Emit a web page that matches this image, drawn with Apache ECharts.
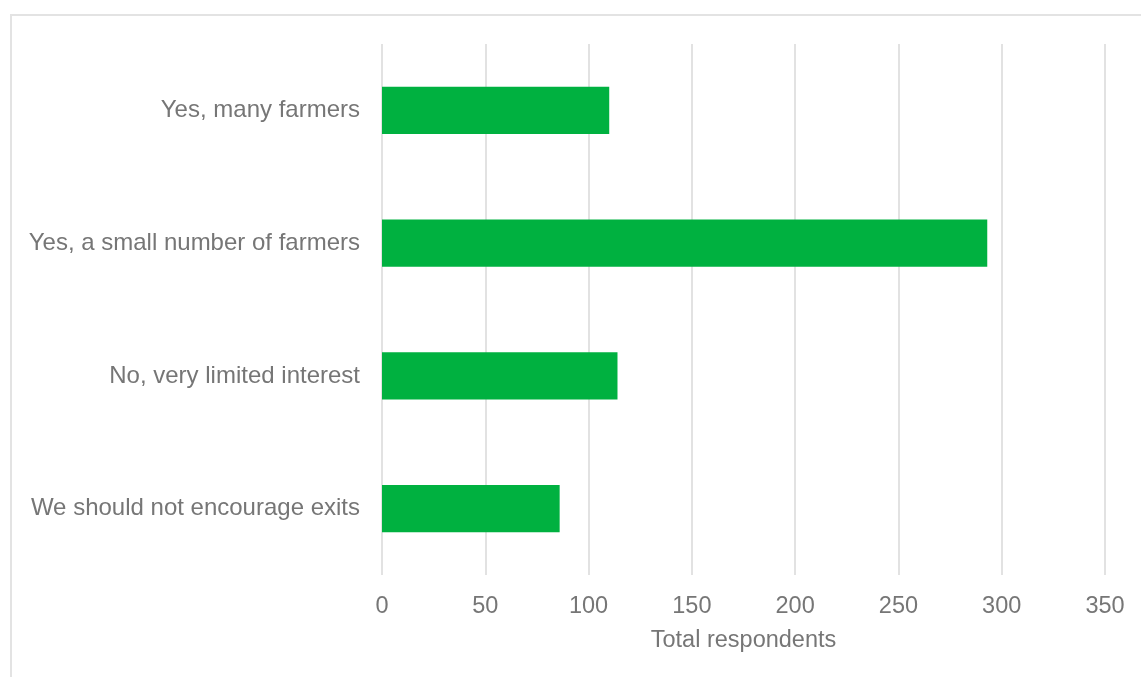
<!DOCTYPE html>
<html><head><meta charset="utf-8">
<script src="https://cdn.jsdelivr.net/npm/echarts@6/dist/echarts.min.js"></script>
<style>
html,body{margin:0;padding:0;background:#fff;}
#frame{position:absolute;left:10px;top:14px;width:1140px;height:680px;border-left:2px solid #e3e3e3;border-top:2px solid #e3e3e3;box-sizing:border-box;}
#c{position:absolute;left:0;top:0;width:1141px;height:677px;}
</style></head>
<body>
<div id="frame"></div>
<div id="c"></div>
<script>
const categories = ["Yes, many farmers","Yes, a small number of farmers","No, very limited interest","We should not encourage exits"];
const values = [110, 293, 114, 86];
const axisTitle = "Total respondents";

const chart = echarts.init(document.getElementById('c'));
chart.setOption({
  animation:false,
  grid:{left:382,right:36,top:44,bottom:102,containLabel:false},
  xAxis:{type:'value',min:0,max:350,interval:50,
    name:axisTitle,nameLocation:'middle',nameGap:54,
    nameTextStyle:{color:'#767676',fontSize:23.5,fontFamily:'Liberation Sans, Arial'},
    axisLine:{show:false},axisTick:{show:false},
    axisLabel:{color:'#767676',fontSize:23.5,fontFamily:'Liberation Sans, Arial',margin:20},
    splitLine:{show:true,lineStyle:{color:'#d9d9d9',width:1.5}}},
  yAxis:{type:'category',data:categories,inverse:true,
    axisLine:{show:false},axisTick:{show:false},
    axisLabel:{color:'#767676',fontSize:24,fontFamily:'Liberation Sans, Arial',margin:22}},
  series:[{type:'bar',data:values,barWidth:'35.6%',itemStyle:{color:'#00B140'}}]
});
</script>
</body></html>
